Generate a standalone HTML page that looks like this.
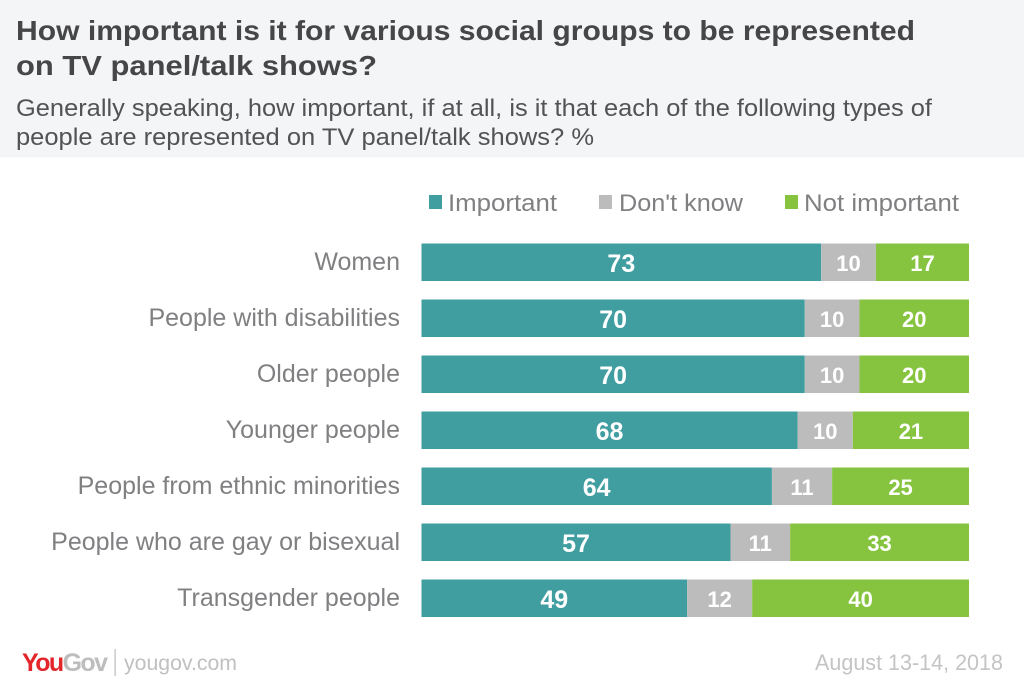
<!DOCTYPE html>
<html lang="en">
<head>
<meta charset="utf-8">
<title>How important is it for various social groups to be represented on TV panel/talk shows?</title>
<style>
html,body{margin:0;padding:0;background:#fff;}
body{width:1024px;height:693px;overflow:hidden;font-family:"Liberation Sans",sans-serif;}
svg{display:block;}
text{font-family:"Liberation Sans",sans-serif;}
</style>
</head>
<body>
<svg id="chart" xmlns="http://www.w3.org/2000/svg" width="1024" height="693" viewBox="0 0 1024 693">
  <rect x="0" y="0" width="1024" height="157.5" fill="#f4f5f7"/>
  <text x="16" y="40" font-size="28" font-weight="700" fill="#464649" textLength="899" lengthAdjust="spacingAndGlyphs">How important is it for various social groups to be represented</text>
  <text x="16" y="75" font-size="28" font-weight="700" fill="#464649" textLength="361" lengthAdjust="spacingAndGlyphs">on TV panel/talk shows?</text>
  <text x="16" y="116" font-size="24" fill="#535356" textLength="916" lengthAdjust="spacingAndGlyphs">Generally speaking, how important, if at all, is it that each of the following types of</text>
  <text x="16" y="145" font-size="24" fill="#535356" textLength="578" lengthAdjust="spacingAndGlyphs">people are represented on TV panel/talk shows? %</text>

  <g>
    <g>
      <rect x="429" y="195" width="13" height="14" fill="#409ea1"/>
      <text x="448" y="211" font-size="24" fill="#808083" textLength="109" lengthAdjust="spacingAndGlyphs">Important</text>
    </g>
    <g>
      <rect x="599" y="195" width="13" height="14" fill="#bcbcbc"/>
      <text x="619" y="211" font-size="24" fill="#808083" textLength="124" lengthAdjust="spacingAndGlyphs">Don't know</text>
    </g>
    <g>
      <rect x="785" y="195" width="13" height="14" fill="#86c440"/>
      <text x="804" y="211" font-size="24" fill="#808083" textLength="155" lengthAdjust="spacingAndGlyphs">Not important</text>
    </g>
  </g>

  <g id="rows"></g>

  <g>
    <text x="22" y="671" font-size="25" font-weight="700" letter-spacing="-1.6"><tspan fill="#e3262b">You</tspan><tspan fill="#bdbdbd">Gov</tspan></text>
    <rect x="114.5" y="649" width="1.2" height="27" fill="#bdbdbd"/>
    <text x="124" y="670" font-size="21" fill="#c0c0c0" textLength="113" lengthAdjust="spacingAndGlyphs">yougov.com</text>
  </g>
  <text x="815" y="670" font-size="22" fill="#c4c4c6" textLength="188" lengthAdjust="spacingAndGlyphs">August 13-14, 2018</text>
</svg>
<script>
var categories = ["Women", "People with disabilities", "Older people", "Younger people", "People from ethnic minorities", "People who are gay or bisexual", "Transgender people"];
var important = [73, 70, 70, 68, 64, 57, 49];
var dontKnow = [10, 10, 10, 10, 11, 11, 12];
var notImportant = [17, 20, 20, 21, 25, 33, 40];

var NS = 'http://www.w3.org/2000/svg';
var rowsGroup = document.getElementById('rows');
var plotLeft = 421.5, plotRight = 969, firstTop = 243.5, rowStep = 56, barHeight = 37.5;

function xScale(share) { return plotLeft + share * (plotRight - plotLeft); }
function yScale(i) { return firstTop + i * rowStep; }

var seriesList = [
  { key: 'important', values: important, color: '#409ea1', size: 25, dy: 28.5 },
  { key: 'dont-know', values: dontKnow, color: '#bcbcbc', size: 22, dy: 27.5 },
  { key: 'not-important', values: notImportant, color: '#86c440', size: 22, dy: 27.5 }
];

categories.forEach(function (cat, i) {
  var label = document.createElementNS(NS, 'text');
  
  
  label.setAttribute('x', 400);
  label.setAttribute('y', yScale(i) + 26.5);
  label.setAttribute('text-anchor', 'end');
  label.setAttribute('font-size', '25');
  label.setAttribute('fill', '#808083');
  label.textContent = cat;
  rowsGroup.appendChild(label);

  var total = important[i] + dontKnow[i] + notImportant[i];
  var cum = 0;
  seriesList.forEach(function (s) {
    var v = s.values[i];
    var x0 = xScale(cum / total);
    var x1 = xScale((cum + v) / total);
    var rect = document.createElementNS(NS, 'rect');
    
    
    rect.setAttribute('x', x0);
    rect.setAttribute('y', yScale(i));
    rect.setAttribute('width', x1 - x0);
    rect.setAttribute('height', barHeight);
    rect.setAttribute('fill', s.color);
    rowsGroup.appendChild(rect);

    var val = document.createElementNS(NS, 'text');
    
    
    val.setAttribute('x', (x0 + x1) / 2);
    val.setAttribute('y', yScale(i) + s.dy);
    val.setAttribute('text-anchor', 'middle');
    val.setAttribute('font-size', s.size);
    val.setAttribute('font-weight', '700');
    val.setAttribute('fill', '#ffffff');
    val.textContent = v;
    rowsGroup.appendChild(val);
    cum += v;
  });
});
</script>
</body>
</html>
